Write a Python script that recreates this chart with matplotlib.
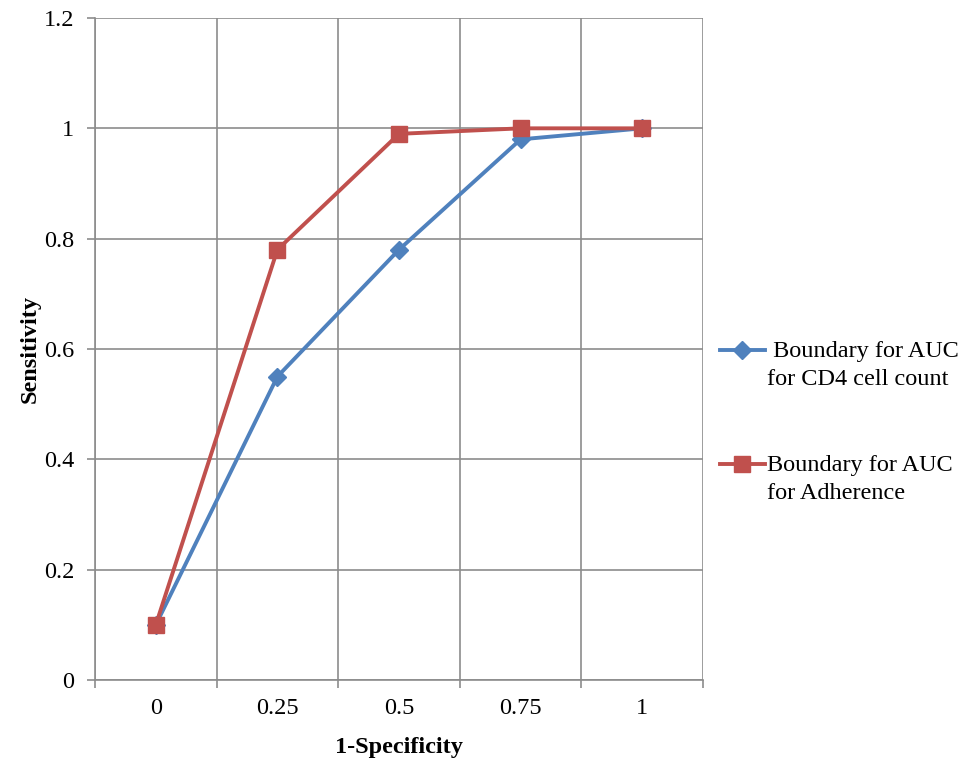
import matplotlib
matplotlib.use('Agg')
import matplotlib.pyplot as plt
from matplotlib.lines import Line2D
import numpy as np

plt.rcParams['font.family'] = ['Liberation Serif', 'DejaVu Serif']

# ============== DATA ==============
categories = ['0', '0.25', '0.5', '0.75', '1']
cd4_sensitivity = [0.1, 0.55, 0.78, 0.98, 1.0]
adherence_sensitivity = [0.1, 0.78, 0.99, 1.0, 1.0]
y_ticks = [0, 0.2, 0.4, 0.6, 0.8, 1, 1.2]
y_tick_labels = ['0', '0.2', '0.4', '0.6', '0.8', '1', '1.2']
legend_lines = [(' Boundary for AUC', 'for CD4 cell count'),
                ('Boundary for AUC', 'for Adherence')]
# ==================================

GRID = '#8c8c8c'
BLUE = '#4F81BD'
RED = '#C0504D'
FS = 17.5
W, H = 975, 760

fig = plt.figure(figsize=(9.75, 7.6), dpi=100)
ax = fig.add_axes([95 / W, 1 - 680 / H, 608 / W, 662 / H])

x = np.arange(len(categories))
ax.plot(x, cd4_sensitivity, color=BLUE, lw=2.8, marker='D', ms=9, zorder=3)
ax.plot(x, adherence_sensitivity, color=RED, lw=2.8, marker='s', ms=11, zorder=4)

ax.set_xlim(-0.5, len(categories) - 0.5)
ax.set_ylim(0, 1.2)
ax.set_xticks(x)
ax.set_xticklabels(categories)
ax.set_xticks(np.arange(-0.5, len(categories)), minor=True)
ax.set_yticks(y_ticks)
ax.set_yticklabels(y_tick_labels)

ax.tick_params(axis='x', which='major', length=0, pad=13, labelsize=FS)
ax.tick_params(axis='x', which='minor', length=6, color=GRID, width=1.2, direction='out')
ax.tick_params(axis='y', length=6, color=GRID, width=1.2, direction='out', pad=9, labelsize=FS)

ax.grid(True, axis='y', which='major', color=GRID, lw=1.2)
ax.grid(True, axis='x', which='minor', color=GRID, lw=1.2)
ax.grid(False, axis='x', which='major')

for side in ['top', 'right']:
    ax.spines[side].set_visible(False)
for side in ['left', 'bottom']:
    ax.spines[side].set_color(GRID)
    ax.spines[side].set_linewidth(1.2)

ax.set_xlabel('1-Specificity', fontsize=FS, fontweight='bold', labelpad=13)
ax.set_ylabel('Sensitivity', fontsize=FS, fontweight='bold', labelpad=2)

# legend drawn by hand: the handle sits on the first text line, like Excel
styles = [(BLUE, 'D', 9), (RED, 's', 11)]
for (first, second), (color, marker, ms), y0 in zip(legend_lines, styles, [350, 464]):
    fig.add_artist(Line2D([720 / W, 765 / W], [1 - y0 / H] * 2, color=color, lw=2.8,
                          transform=fig.transFigure))
    fig.add_artist(Line2D([742 / W], [1 - y0 / H], color=color, marker=marker, ms=ms,
                          ls='', transform=fig.transFigure))
    fig.text(767 / W, 1 - (y0 - 9) / H, first + '\n' + second, fontsize=FS,
             va='top', ha='left', linespacing=1.45)

fig.savefig('out.png', dpi=100)
